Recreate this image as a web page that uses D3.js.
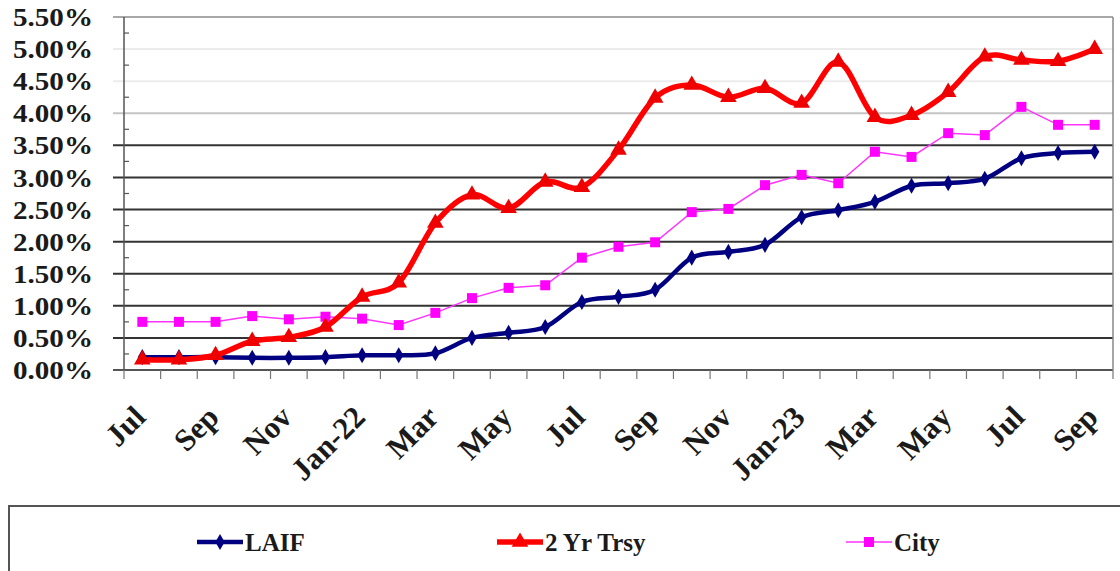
<!DOCTYPE html>
<html>
<head>
<meta charset="utf-8">
<script src="https://cdn.jsdelivr.net/npm/d3@7"></script>
<style>
  html, body { margin: 0; padding: 0; background: #ffffff; }
  svg { display: block; }
  text { font-family: "Liberation Serif", "Times New Roman", serif; font-weight: bold; fill: #1a1a1a; }
</style>
</head>
<body>
<svg id="chart" width="1120" height="571"></svg>
<script>
// ---- data ----
const months = ["Jul-21","Aug-21","Sep-21","Oct-21","Nov-21","Dec-21","Jan-22","Feb-22","Mar-22","Apr-22","May-22","Jun-22",
                "Jul-22","Aug-22","Sep-22","Oct-22","Nov-22","Dec-22","Jan-23","Feb-23","Mar-23","Apr-23","May-23","Jun-23",
                "Jul-23","Aug-23","Sep-23"];
const tickLabels = ["Jul","","Sep","","Nov","","Jan-22","","Mar","","May","",
                    "Jul","","Sep","","Nov","","Jan-23","","Mar","","May","",
                    "Jul","","Sep"];
const laif = [0.20,0.20,0.20,0.19,0.19,0.20,0.23,0.23,0.26,0.50,0.58,0.67,1.06,1.14,1.25,1.75,1.84,1.95,2.38,2.49,2.62,2.87,2.91,2.98,3.30,3.38,3.40];
const trsy = [0.16,0.16,0.23,0.45,0.51,0.67,1.14,1.36,2.29,2.73,2.52,2.93,2.85,3.43,4.24,4.44,4.25,4.39,4.16,4.80,3.94,3.97,4.33,4.88,4.83,4.81,5.00];
const city = [0.75,0.75,0.75,0.84,0.79,0.83,0.80,0.70,0.89,1.12,1.28,1.32,1.75,1.92,1.99,2.46,2.51,2.88,3.04,2.91,3.40,3.32,3.69,3.66,4.10,3.82,3.82];
const yTicks = [0,0.5,1,1.5,2,2.5,3,3.5,4,4.5,5,5.5];
const yMinor = [0.25,0.75,1.25,1.75,2.25,2.75,3.25,3.75,4.25,4.75,5.25];
const seriesNames = ["LAIF","2 Yr Trsy","City"];

// ---- layout ----
const svg = d3.select("#chart");
const L = 124, R = 1113, T = 17, B = 370;

const x = d3.scaleBand().domain(months).range([L, R]).paddingInner(0).paddingOuter(0);
const cx = m => x(m) + x.bandwidth() / 2;
const y = d3.scaleLinear().domain([0, 5.5]).range([B, T]);

// gridlines (major ticks extend left of axis)
const gridStyle = v => {
  if (v >= 5.5) return {c: "#a8a8a8", w: 2};
  if (v >= 4.5) return {c: "#ececec", w: 2};
  if (v >= 4.0) return {c: "#c4c4c4", w: 2};
  if (v <= 0) return {c: "#555", w: 2};
  return {c: "#333", w: 2};
};
svg.append("g").selectAll("line").data(yTicks).join("line")
  .attr("x1", L - 11).attr("x2", R)
  .attr("y1", d => y(d)).attr("y2", d => y(d))
  .attr("stroke", d => gridStyle(d).c)
  .attr("stroke-width", d => gridStyle(d).w);

// minor ticks inside left axis
svg.append("g").selectAll("line").data(yMinor).join("line")
  .attr("x1", L).attr("x2", L + 5)
  .attr("y1", d => y(d)).attr("y2", d => y(d))
  .attr("stroke", "#555").attr("stroke-width", 1.2);

// left axis and right border
svg.append("line").attr("x1", L).attr("x2", L).attr("y1", T).attr("y2", B)
  .attr("stroke", "#555").attr("stroke-width", 1.5);
svg.append("line").attr("x1", R).attr("x2", R).attr("y1", T).attr("y2", B)
  .attr("stroke", "#888").attr("stroke-width", 1.5);

// x ticks at category boundaries
const bounds = months.map(m => x(m)).concat([R]);
svg.append("g").selectAll("line").data(bounds).join("line")
  .attr("x1", d => d).attr("x2", d => d)
  .attr("y1", B).attr("y2", B + 9)
  .attr("stroke", "#777").attr("stroke-width", 1.2);

// y labels
svg.append("g").selectAll("text").data(yTicks).join("text")
  .attr("x", 93).attr("y", d => y(d))
  .attr("dy", "0.35em")
  .attr("text-anchor", "end")
  .attr("font-size", 26)
  .attr("textLength", 80)
  .attr("lengthAdjust", "spacingAndGlyphs")
  .text(d => d3.format(".2f")(d) + "%");

// x labels (rotated)
svg.append("g").selectAll("text").data(months.filter((m, i) => tickLabels[i] !== "")).join("text")
  .attr("transform", m => `translate(${cx(m) + 5},${B + 49}) rotate(-45)`)
  .attr("text-anchor", "end")
  .attr("font-size", 31)
  .text(m => tickLabels[months.indexOf(m)]);

// ---- series ----
const smooth = d3.curveCatmullRom.alpha(0);
const lineGen = (vals, curve) => d3.line()
  .x((d, i) => cx(months[i]))
  .y(d => y(d))
  .curve(curve)(vals);

// City (thin, straight)
svg.append("path").attr("d", lineGen(city, d3.curveLinear))
  .attr("fill", "none").attr("stroke", "#ff33ff").attr("stroke-width", 1.5);
svg.append("g").selectAll("rect").data(city).join("rect")
  .attr("x", (d, i) => cx(months[i]) - 5).attr("y", d => y(d) - 5)
  .attr("width", 10).attr("height", 10).attr("fill", "#ff00ff");

// LAIF
svg.append("path").attr("d", lineGen(laif, smooth))
  .attr("fill", "none").attr("stroke", "#000080").attr("stroke-width", 4.5);
const diamond = d3.symbol().type(d3.symbolDiamond).size(75);
svg.append("g").selectAll("path").data(laif).join("path")
  .attr("d", diamond)
  .attr("transform", (d, i) => `translate(${cx(months[i])},${y(d)})`)
  .attr("fill", "#000080");

// 2 Yr Trsy
svg.append("path").attr("d", lineGen(trsy, smooth))
  .attr("fill", "none").attr("stroke", "#ff0000").attr("stroke-width", 5.5);
const tri = d3.symbol().type(d3.symbolTriangle).size(120);
svg.append("g").selectAll("path").data(trsy).join("path")
  .attr("d", tri)
  .attr("transform", (d, i) => `translate(${cx(months[i])},${y(d)})`)
  .attr("fill", "#ee0000");

// ---- legend ----
svg.append("rect").attr("x", 9).attr("y", 506).attr("width", 1130).attr("height", 80)
  .attr("fill", "#fff").attr("stroke", "#555").attr("stroke-width", 2);

const legY = 542;
const legend = [
  {name: seriesNames[0], x0: 197, color: "#000080", w: 4.5, sym: "diamond"},
  {name: seriesNames[1], x0: 497, color: "#ff0000", w: 5.5, sym: "tri"},
  {name: seriesNames[2], x0: 846, color: "#ff33ff", w: 1.5, sym: "rect"}
];
const lg = svg.append("g").selectAll("g").data(legend).join("g");
lg.append("line").attr("x1", d => d.x0).attr("x2", d => d.x0 + 46)
  .attr("y1", legY).attr("y2", legY)
  .attr("stroke", d => d.color).attr("stroke-width", d => d.w);
lg.each(function(d) {
  const g = d3.select(this);
  const mx = d.x0 + 23;
  if (d.sym === "diamond") g.append("path").attr("d", diamond).attr("transform", `translate(${mx},${legY})`).attr("fill", d.color);
  if (d.sym === "tri") g.append("path").attr("d", tri).attr("transform", `translate(${mx},${legY})`).attr("fill", d.color);
  if (d.sym === "rect") g.append("rect").attr("x", mx - 5).attr("y", legY - 5).attr("width", 10).attr("height", 10).attr("fill", "#ff00ff");
});
lg.append("text").attr("x", d => d.x0 + 48).attr("y", legY).attr("dy", "0.35em")
  .attr("font-size", 25).text(d => d.name);
</script>
</body>
</html>
